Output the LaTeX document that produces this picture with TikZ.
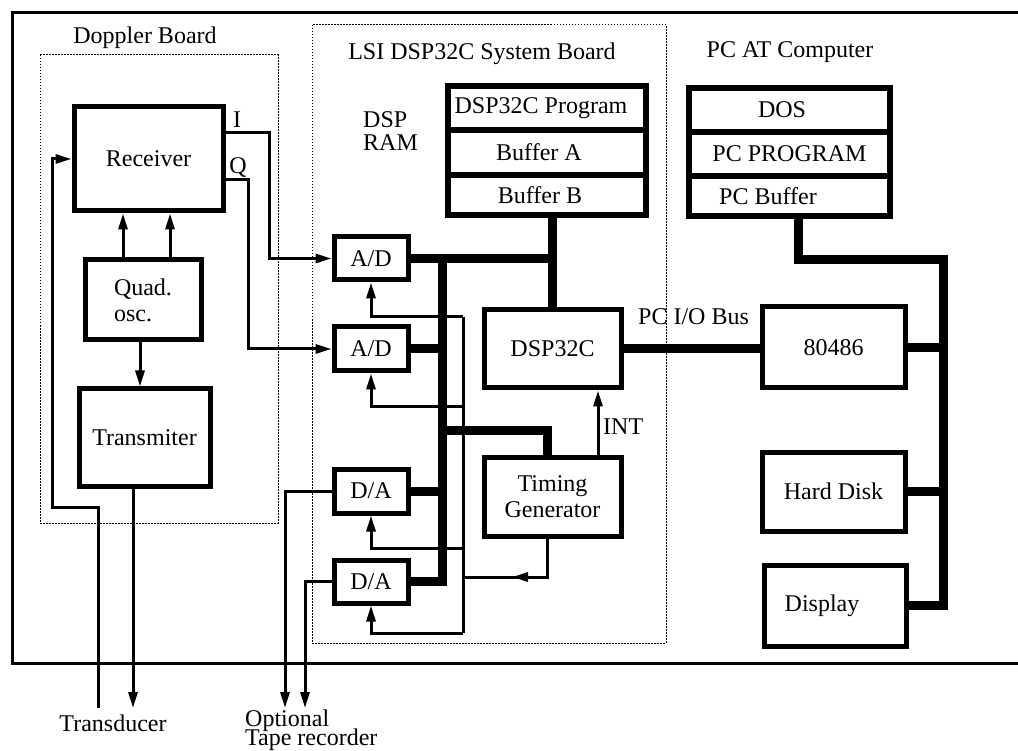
\documentclass[tikz,border=0pt]{standalone}
\usepackage{fontspec}
\setmainfont{Liberation Serif}
\usetikzlibrary{arrows.meta}
\begin{document}
\begin{tikzpicture}[x=1pt,y=-1pt,
  every node/.style={font=\fontsize{24}{26}\selectfont},
  box/.style={draw, line width=5pt, inner sep=0pt},
  cell/.style={draw, line width=6pt, inner sep=0pt, minimum width=198pt},
  wire/.style={line width=3pt},
  bus/.style={line width=9pt},
  tip/.style={-{Triangle[length=16pt,width=9pt]}},
  board/.style={draw, line width=1pt, dash pattern=on 1.5pt off 1.5pt},
  lbl/.style={inner sep=0pt}]
\useasboundingbox (0,0) rectangle (1018,751);
% outer frame
\draw[line width=3pt] (1018,13) -- (12,13) -- (12,663) -- (1018,663);
% boards
\draw[board] (40,55) rectangle (278,523);
\draw[board] (312,25) rectangle (666,643);
\node[lbl, anchor=base] (tdop) at (145,44) {Doppler Board};
\node[lbl, anchor=base] (tlsi) at (482,60) {LSI DSP32C System Board};
\node[lbl, anchor=base] (tpc) at (790,58) {PC AT Computer};
% blocks
\node[box, minimum width=149pt, minimum height=104pt] (rec) at (148.5,159) {Receiver};
\node[box, minimum width=116pt, minimum height=80pt, align=left] (quad) at (143,300) {Quad.\\osc.\hspace*{10pt}};
\node[box, minimum width=131pt, minimum height=97pt] (trans) at (144.5,437.5) {Transmiter};
\node[box, minimum width=74pt, minimum height=43pt] (ad1) at (371,258.5) {A/D};
\node[box, minimum width=74pt, minimum height=44pt] (ad2) at (371,349) {A/D};
\node[box, minimum width=74pt, minimum height=44pt] (da1) at (371,491) {D/A};
\node[box, minimum width=74pt, minimum height=43pt] (da2) at (371,581.5) {D/A};
\node[box, minimum width=137pt, minimum height=78pt] (dsp) at (552.5,349) {DSP32C};
\node[box, minimum width=137pt, minimum height=79pt, align=center] (tg) at (552.5,496.5) {Timing\\Generator};
\node[box, minimum width=143pt, minimum height=81pt] (cpu) at (833.5,347.5) {80486};
\node[box, minimum width=143pt, minimum height=79pt] (hd) at (833.5,491.5) {Hard Disk};
\node[box, minimum width=142pt, minimum height=81pt] (disp) at (835,605.5) {Display\hspace*{26pt}};
% DSP RAM stack
\node[cell, minimum height=44pt] (prog) at (547,108) {DSP32C Program\hspace*{12pt}};
\node[cell, minimum height=45pt] (bufa) at (547,152.5) {Buffer A\hspace*{16pt}};
\node[cell, minimum height=40pt] (bufb) at (547,195) {Buffer B\hspace*{14pt}};
% PC memory stack
\node[cell, minimum width=201pt, minimum height=44pt] (dos) at (789.5,110) {DOS\hspace*{15pt}};
\node[cell, minimum width=201pt, minimum height=44pt] (pcprog) at (789.5,154) {PC PROGRAM};
\node[cell, minimum width=201pt, minimum height=40pt] (pcbuf) at (789.5,196) {PC Buffer\hspace*{43pt}};
% labels
\node[lbl] (li) at (237,120) {I};
\node[lbl] (lq) at (238,168) {Q};
\node[lbl, anchor=west] (ldsp) at (363,120) {DSP};
\node[lbl, anchor=west] (lram) at (363,143) {RAM};
\node[lbl, anchor=west] (lint) at (603,427) {INT};
\node[lbl, anchor=west] (lbus) at (638,317) {PC I/O Bus};
\node[lbl] (ltr) at (113,723) {Transducer};
\node[lbl, anchor=base west] (lopt) at (245,726) {Optional};
\node[lbl, anchor=base west] (ltape) at (245,745) {Tape recorder};
% helper coordinates
\coordinate (xa) at (123,0);
\coordinate (xb) at (170,0);
\coordinate (xc) at (140,0);
\coordinate (xt) at (133,0);
\coordinate (yI) at (0,133);
\coordinate (yQ) at (0,180);
\coordinate (xtg) at (547,0);
\coordinate (xint) at (598,0);
\coordinate (xbus) at (442,0);
\coordinate (xpc) at (798,0);
\coordinate (xr) at (943,0);
\coordinate (tout) at (133,708);
\coordinate (tin) at (98,708);
\coordinate (tp1) at (285,708);
\coordinate (tp2) at (305,708);
% Doppler board wiring
\draw[wire,tip] (rec.east |- yI) -- (269,133) |- (ad1.west);
\draw[wire,tip] (rec.east |- yQ) -- (248,180) |- (ad2.west);
\draw[wire,tip] (quad.north -| xa) -- (rec.south -| xa);
\draw[wire,tip] (quad.north -| xb) -- (rec.south -| xb);
\draw[wire,tip] (quad.south -| xc) -- (trans.north -| xc);
\draw[wire,tip] (trans.south -| xt) -- (tout);
\draw[wire,tip] (tin) -- (98,507) -- (52,507) |- (rec.west);
% D/A outputs
\draw[wire,tip] (da1.west) -- (285,491) -- (tp1);
\draw[wire,tip] (da2.west) -- (305,581.5) -- (tp2);
% clock distribution
\draw[wire] (463,317) -- (463,633);
\draw[wire,tip] (463,317) -| (ad1.south);
\draw[wire,tip] (463,407) -| (ad2.south);
\draw[wire,tip] (463,548) -| (da1.south);
\draw[wire,tip] (463,633) -| (da2.south);
\draw[wire] (tg.south -| xtg) |- (463,577);
\draw[wire,tip] (530,577) -- (512,577);
\draw[wire,tip] (tg.north -| xint) -- (dsp.south -| xint);
% data buses
\draw[bus] (ad1.east) -- (ad1.east -| dsp.north);
\draw[bus] (bufb.south -| dsp.north) -- (dsp.north);
\draw[bus] (ad1.east -| xbus) -- (da2.east -| xbus) -- (da2.east);
\draw[bus] (ad2.east) -- (ad2.east -| xbus);
\draw[bus] (da1.east) -- (da1.east -| xbus);
\draw[bus] (442,430) -| (tg.north -| xtg);
\draw[bus] (dsp.east) -- (dsp.east -| cpu.west);
\draw[bus] (pcbuf.south -| xpc) -- (798,260) -- (943,260) -- (disp.east -| xr) -- (disp.east);
\draw[bus] (cpu.east) -- (cpu.east -| xr);
\draw[bus] (hd.east) -- (hd.east -| xr);
\end{tikzpicture}
\end{document}
